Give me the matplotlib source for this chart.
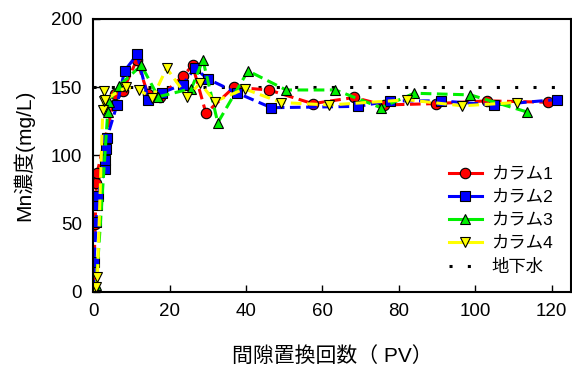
import matplotlib

matplotlib.use("Agg")
import matplotlib.pyplot as plt

plt.rcParams["font.family"] = ["Liberation Sans", "Noto Sans CJK JP"]

# Mn concentration vs pore volumes, four columns + groundwater level
col1_pv = [0.1, 0.5, 0.8, 1.0, 5.8, 7.7, 11.4, 14.3, 17.5, 23.4, 26.0, 29.5,
           36.8, 46.0, 57.4, 68.3, 76.0, 89.6, 103.0, 119.0]
col1_mn = [3, 50, 80, 87, 145, 147, 170, 145, 143, 158, 166, 131,
           150, 148, 138, 142.5, 137, 138, 140, 139]

col2_pv = [0.1, 0.2, 0.8, 1.0, 1.2, 3.0, 3.1, 3.3, 3.6, 6.2, 8.2, 11.5, 14.4,
           18.0, 23.4, 26.6, 30.0, 37.5, 46.6, 69.4, 77.6, 91.0, 105.0, 121.4]
col2_mn = [1, 22, 51.5, 64, 70, 90, 97, 105, 113, 137, 162, 174, 141,
           146, 152, 164, 156, 146, 135, 136, 140, 140, 137, 141]

col3_pv = [0.3, 0.8, 3.8, 4.0, 6.7, 12.6, 17.0, 25.7, 28.7, 32.6, 40.5,
           50.5, 63.4, 75.3, 84.0, 98.7, 113.4]
col3_mn = [1, 5, 132, 139, 151, 166, 143, 149, 170, 124, 162,
           148, 148, 135, 145.6, 144.4, 132]

col4_pv = [0.3, 0.8, 1.1, 2.5, 2.7, 2.9, 3.1, 8.6, 12.0, 15.5, 19.2, 24.6,
           28.0, 31.8, 39.6, 49.2, 61.8, 82.2, 96.6, 110.8]
col4_mn = [1, 4, 11, 133, 140, 147, 141, 150, 148, 142, 164, 143,
           153, 139.5, 148.8, 138.8, 137, 140.8, 136.4, 138.8]

groundwater_pv = [0, 125]
groundwater_mn = [150, 150]

series = [
    ("カラム1", col1_pv, col1_mn, "#ff0000", "o"),
    ("カラム2", col2_pv, col2_mn, "#0000ff", "s"),
    ("カラム3", col3_pv, col3_mn, "#00f000", "^"),
    ("カラム4", col4_pv, col4_mn, "#ffff00", "v"),
]

fig = plt.figure(figsize=(5.72, 3.65), dpi=100)
ax = fig.add_axes([0.163, 0.2, 0.835, 0.748])

for label, x, y, color, marker in series:
    ax.plot(x, y, color=color, linestyle=(0, (3.5, 1.8)), linewidth=2.2,
            marker=marker, markersize=7.5, markerfacecolor=color,
            markeredgecolor="black", markeredgewidth=0.8, label=label)

ax.plot(groundwater_pv, groundwater_mn, color="black", linestyle=(0, (1, 5)),
        linewidth=2.2, label="地下水", zorder=0)

ax.set_xlim(0, 125)
ax.set_ylim(0, 200)
ax.set_xticks(range(0, 121, 20))
ax.set_yticks(range(0, 201, 50))
ax.tick_params(direction="in", labelsize=13.5, length=5, width=1, pad=8)
for sp in ax.spines.values():
    sp.set_linewidth(1.5)

ax.set_xlabel("間隙置換回数（ PV）", fontsize=15, labelpad=19)
ax.set_ylabel("Mn濃度(mg/L)", fontsize=15, labelpad=12)

leg = ax.legend(loc="upper left", bbox_to_anchor=(0.713, 0.516), frameon=False,
                fontsize=12.5, handlelength=1.85, labelspacing=0.45,
                handletextpad=0.57)
# legend swatches are drawn as solid segments
for line in leg.get_lines()[:4]:
    line.set_linestyle("-")

fig.savefig("out.png", dpi=100)
